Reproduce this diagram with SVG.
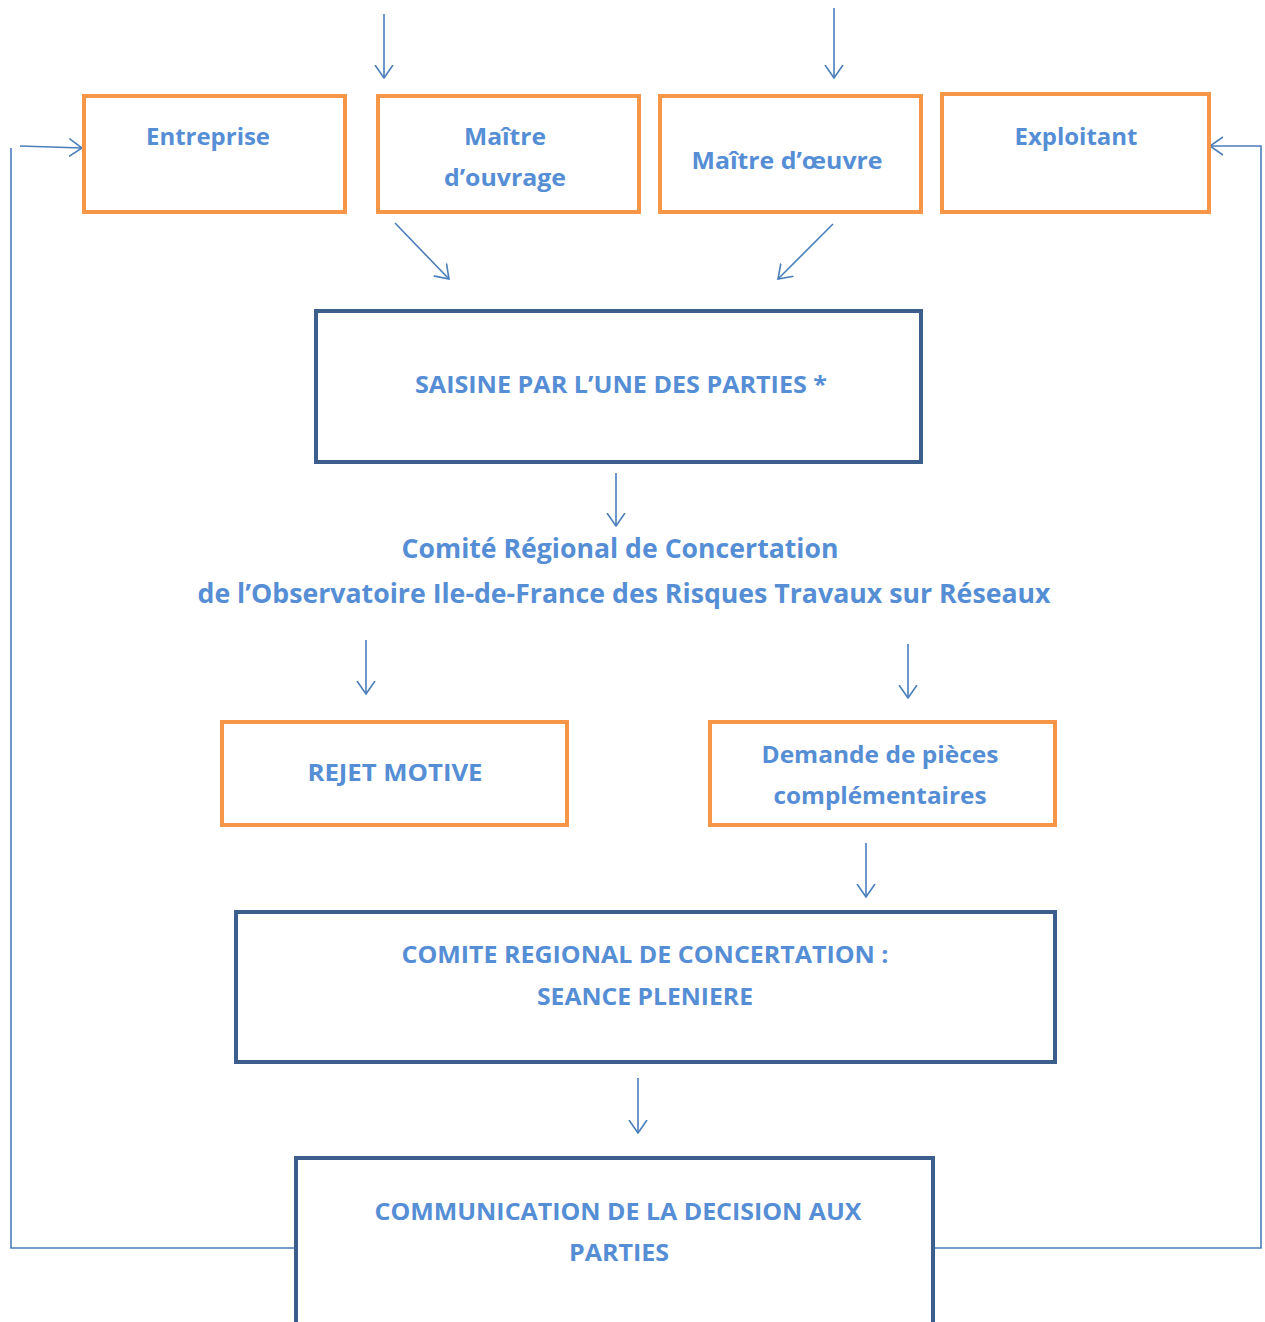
<svg xmlns="http://www.w3.org/2000/svg" width="1265" height="1322" viewBox="0 0 1265 1322">
<style>
.bg{fill:#ffffff}
.or{fill:#ffffff;stroke:#F79646;stroke-width:4}
.bl{fill:#ffffff;stroke:#3B5E8C;stroke-width:4}
.t{font-family:"Open Sans","Noto Sans","Liberation Sans",sans-serif;font-weight:700;font-size:24px;fill:#558ED5;text-anchor:middle}
.big{font-size:26px}
.c{fill:none;stroke:#4A7EBB;stroke-width:1.6}
</style>
<defs>
<marker id="ah" markerUnits="userSpaceOnUse" markerWidth="14" markerHeight="20" viewBox="0 0 14 20" refX="13" refY="10" orient="auto">
<path d="M0,1 L13,10 L0,19" fill="none" stroke="#4A7EBB" stroke-width="1.6"/>
</marker>
</defs>
<rect class="bg" x="0" y="0" width="1265" height="1322"/>
<g id="connectors">
<line class="c" x1="384" y1="14" x2="384" y2="78" marker-end="url(#ah)"/>
<line class="c" x1="834" y1="8" x2="834" y2="78" marker-end="url(#ah)"/>
<line class="c" x1="395" y1="223" x2="449" y2="279" marker-end="url(#ah)"/>
<line class="c" x1="833" y1="224" x2="778" y2="279" marker-end="url(#ah)"/>
<line class="c" x1="616" y1="473" x2="616" y2="526" marker-end="url(#ah)"/>
<line class="c" x1="366" y1="640" x2="366" y2="694" marker-end="url(#ah)"/>
<line class="c" x1="908" y1="644" x2="908" y2="698" marker-end="url(#ah)"/>
<line class="c" x1="866" y1="843" x2="866" y2="897" marker-end="url(#ah)"/>
<line class="c" x1="638" y1="1078" x2="638" y2="1133" marker-end="url(#ah)"/>
<polyline class="c" points="296,1248 11,1248 11,148"/>
<line class="c" x1="20" y1="146" x2="82" y2="148" marker-end="url(#ah)"/>
<polyline class="c" points="933,1248 1261,1248 1261,146 1210,146" marker-end="url(#ah)"/>
</g>
<g id="entreprise">
<rect class="or" x="84" y="96" width="261" height="116"/>
<text class="t" x="208" y="145" textLength="124" lengthAdjust="spacingAndGlyphs">Entreprise</text>
</g>
<g id="maitre-ouvrage">
<rect class="or" x="378" y="96" width="261" height="116"/>
<text class="t" x="505" y="145" textLength="82" lengthAdjust="spacingAndGlyphs">Maître</text>
<text class="t" x="505" y="186" textLength="122" lengthAdjust="spacingAndGlyphs">d’ouvrage</text>
</g>
<g id="maitre-oeuvre">
<rect class="or" x="660" y="96" width="261" height="116"/>
<text class="t" x="787" y="169" textLength="191" lengthAdjust="spacingAndGlyphs">Maître d’œuvre</text>
</g>
<g id="exploitant">
<rect class="or" x="942" y="94" width="267" height="118"/>
<text class="t" x="1076" y="145" textLength="123" lengthAdjust="spacingAndGlyphs">Exploitant</text>
</g>
<g id="saisine">
<rect class="bl" x="316" y="311" width="605" height="151"/>
<text class="t" x="621" y="393" textLength="412" lengthAdjust="spacingAndGlyphs">SAISINE PAR L’UNE DES PARTIES *</text>
</g>
<g id="comite-titre">
<text class="t big" x="620" y="558" textLength="437" lengthAdjust="spacingAndGlyphs">Comité Régional de Concertation</text>
<text class="t big" x="624" y="603" textLength="853" lengthAdjust="spacingAndGlyphs">de l’Observatoire Ile-de-France des Risques Travaux sur Réseaux</text>
</g>
<g id="rejet">
<rect class="or" x="222" y="722" width="345" height="103"/>
<text class="t" x="395" y="781" textLength="175" lengthAdjust="spacingAndGlyphs">REJET MOTIVE</text>
</g>
<g id="demande">
<rect class="or" x="710" y="722" width="345" height="103"/>
<text class="t" x="880" y="763" textLength="237" lengthAdjust="spacingAndGlyphs">Demande de pièces</text>
<text class="t" x="880" y="804" textLength="213" lengthAdjust="spacingAndGlyphs">complémentaires</text>
</g>
<g id="seance">
<rect class="bl" x="236" y="912" width="819" height="150"/>
<text class="t" x="645" y="963" textLength="487" lengthAdjust="spacingAndGlyphs">COMITE REGIONAL DE CONCERTATION :</text>
<text class="t" x="645" y="1005" textLength="216" lengthAdjust="spacingAndGlyphs">SEANCE PLENIERE</text>
</g>
<g id="communication">
<rect class="bl" x="296" y="1158" width="637" height="170"/>
<text class="t" x="618" y="1220" textLength="487" lengthAdjust="spacingAndGlyphs">COMMUNICATION DE LA DECISION AUX</text>
<text class="t" x="619" y="1261" textLength="100" lengthAdjust="spacingAndGlyphs">PARTIES</text>
</g>
</svg>
